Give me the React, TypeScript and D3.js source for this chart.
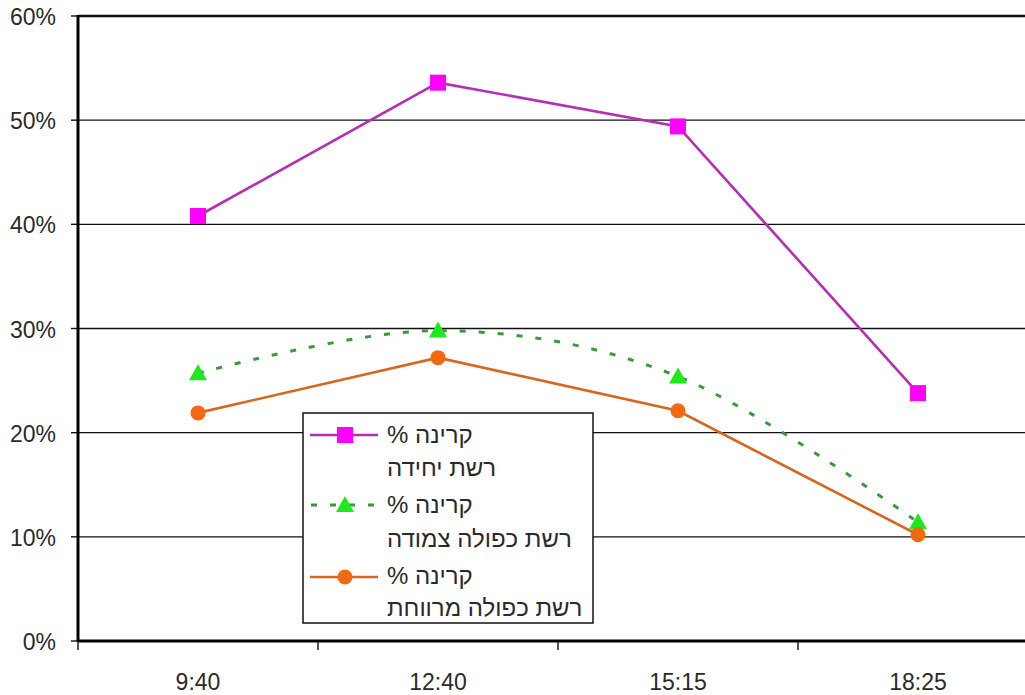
import React from "react";
import * as d3 from "d3";

const categories = ["9:40", "12:40", "15:15", "18:25"];
const yTicks = [0, 10, 20, 30, 40, 50, 60];
const singleNet = [40.8, 53.6, 49.4, 23.8];
const doubleAdjacent = [25.7, 29.8, 25.4, 11.4];
const doubleSpaced = [21.9, 27.2, 22.1, 10.2];
const legendLabels = [
  ["קרינה %", "רשת יחידה"],
  ["קרינה %", "רשת כפולה צמודה"],
  ["קרינה %", "רשת כפולה מרווחת"],
];

const W = 1025, H = 695;
const left = 78, top = 16, bottom = 641;
const catW = 240;
const plotRight = left + catW * categories.length;

export default function App() {
  const x = d3.scaleBand<string>().domain(categories).range([left, plotRight]);
  const cx = (c: string) => (x(c) as number) + x.bandwidth() / 2;
  const y = d3.scaleLinear().domain([0, 60]).range([bottom, top]);
  const font = "'Liberation Sans', Arial, sans-serif";

  const straight = d3.line<number>().x((_, i) => cx(categories[i])).y((d) => y(d));
  const smooth = d3
    .line<number>()
    .x((_, i) => cx(categories[i]))
    .y((d) => y(d))
    .curve(d3.curveCatmullRom.alpha(0));

  const sq = (px: number, py: number, key: any, s = 16) => (
    <rect key={key} x={px - s / 2} y={py - s / 2} width={s} height={s} fill="#ff00ff" />
  );
  const tri = (px: number, py: number, key: any) => (
    <path key={key} d={`M${px},${py - 9}L${px + 9},${py + 7}L${px - 9},${py + 7}Z`} fill="#1ee81e" />
  );
  const circ = (px: number, py: number, key: any) => (
    <circle key={key} cx={px} cy={py} r={7.5} fill="#f26a10" />
  );

  const lgX = 303, lgY = 413, lgW = 290, lgH = 210;
  const markerY = [435, 505, 577];
  const baseY = [443, 476, 513, 547, 584, 616];

  return (
    <svg
      width={W}
      height={H}
      style={{ position: "absolute", left: 0, top: 0, display: "block", background: "#fff" }}
      fontFamily={font}
    >
      <rect width={W} height={H} fill="#fff" />
      {/* gridlines */}
      {yTicks.map((t) => (
        <line key={"g" + t} x1={left} x2={plotRight} y1={y(t)} y2={y(t)} stroke="#111" strokeWidth={t === 60 ? 2.5 : 1.4} />
      ))}
      {/* y ticks + labels */}
      {yTicks.map((t) => (
        <g key={"yt" + t}>
          <line x1={left - 7} x2={left} y1={y(t)} y2={y(t)} stroke="#111" strokeWidth={1.4} />
          <text x={56} y={y(t) + 9} textAnchor="end" fontSize={23} fill="#2a2a2a">
            {t + "%"}
          </text>
        </g>
      ))}
      {/* axes */}
      <line x1={left} x2={left} y1={top - 1} y2={bottom + 1} stroke="#000" strokeWidth={3} />
      <line x1={left} x2={plotRight} y1={bottom} y2={bottom} stroke="#000" strokeWidth={3} />
      {categories.map((c, i) => (
        <line key={"xt" + i} x1={x(c) as number} x2={x(c) as number} y1={bottom} y2={bottom + 9} stroke="#111" strokeWidth={1.4} />
      ))}
      {categories.map((c) => (
        <text key={"xl" + c} x={cx(c)} y={690} textAnchor="middle" fontSize={23} fill="#2a2a2a">
          {c}
        </text>
      ))}

      {/* series */}
      <path d={smooth(doubleAdjacent) || ""} fill="none" stroke="#3a9a3a" strokeWidth={3} strokeDasharray="6 13" />
      <path d={straight(doubleSpaced) || ""} fill="none" stroke="#d9661c" strokeWidth={2.6} />
      <path d={straight(singleNet) || ""} fill="none" stroke="#b52fb5" strokeWidth={2.6} />
      {doubleAdjacent.map((v, i) => tri(cx(categories[i]), y(v), "t" + i))}
      {doubleSpaced.map((v, i) => circ(cx(categories[i]), y(v), "c" + i))}
      {singleNet.map((v, i) => sq(cx(categories[i]), y(v), "s" + i))}

      {/* legend */}
      <rect x={lgX} y={lgY} width={lgW} height={lgH} fill="#fff" stroke="#111" strokeWidth={1.5} />
      <line x1={310} x2={378} y1={markerY[0]} y2={markerY[0]} stroke="#b52fb5" strokeWidth={2.6} />
      {sq(345, markerY[0], "ls")}
      <line x1={310} x2={380} y1={markerY[1]} y2={markerY[1]} stroke="#3a9a3a" strokeWidth={3} strokeDasharray="6 13" strokeDashoffset={-1} />
      {tri(345, markerY[1], "lt")}
      <line x1={310} x2={378} y1={markerY[2]} y2={markerY[2]} stroke="#d9661c" strokeWidth={2.6} />
      {circ(345, markerY[2], "lc")}
      {legendLabels.map((pair, i) =>
        pair.map((txt, j) => (
          <text
            key={"lg" + i + j}
            x={387}
            y={baseY[i * 2 + j]}
            direction="rtl"
            textAnchor="end"
            fontSize={24}
            fill="#2a2a2a"
          >
            {txt}
          </text>
        ))
      )}
    </svg>
  );
}
